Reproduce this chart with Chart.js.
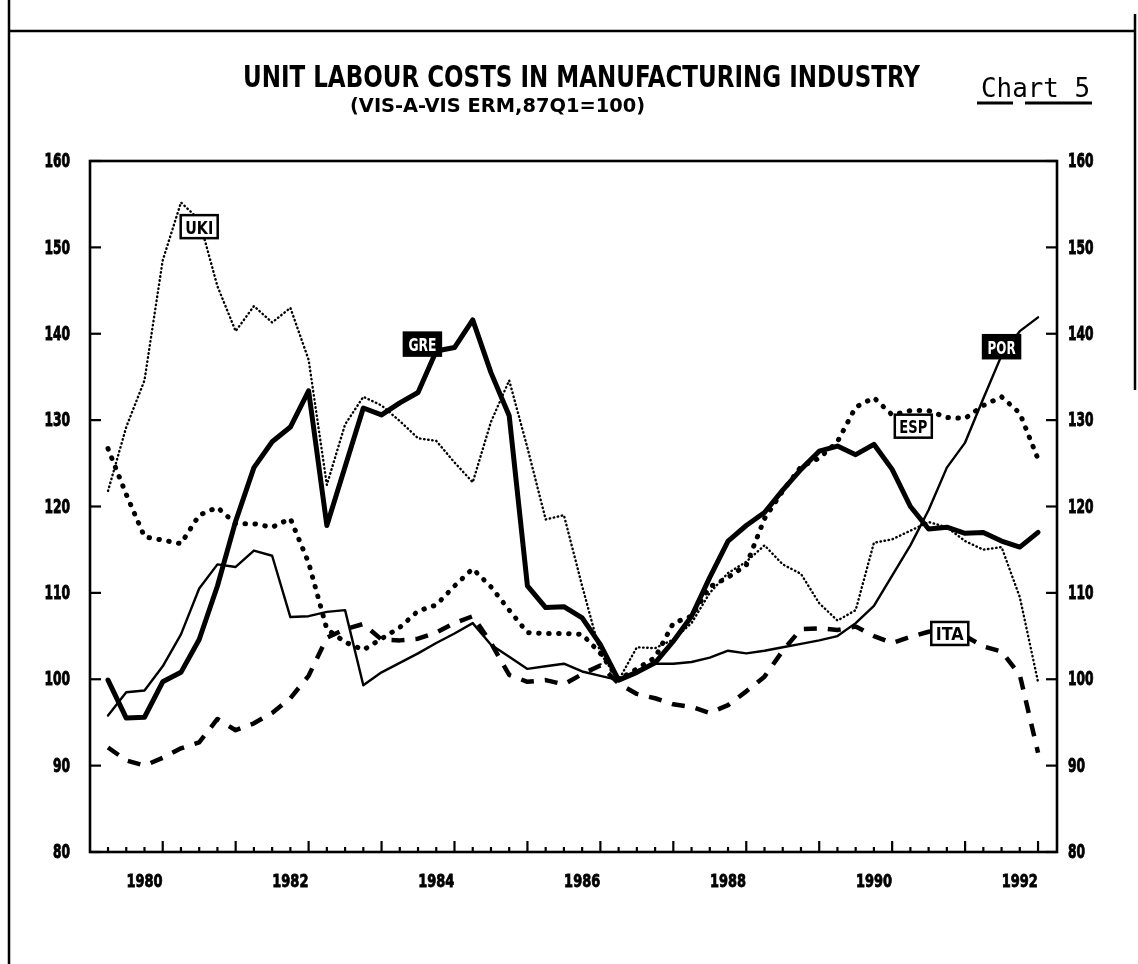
<!DOCTYPE html>
<html>
<head>
<meta charset="utf-8">
<title>Unit labour costs in manufacturing industry</title>
<script src="https://cdn.jsdelivr.net/npm/chart.js@4.4.0/dist/chart.umd.min.js"></script>
<style>
  html, body { margin: 0; padding: 0; background: #fff; }
  #wrap { width: 1138px; height: 964px; }
</style>
</head>
<body>
<div id="wrap"><canvas id="ulcChart" width="1138" height="964"></canvas></div>
<script>
// quarterly observations, 1979Q3 - 1992Q2
const quarters = [
  "1979Q3", "1979Q4",
  "1980Q1", "1980Q2", "1980Q3", "1980Q4",
  "1981Q1", "1981Q2", "1981Q3", "1981Q4",
  "1982Q1", "1982Q2", "1982Q3", "1982Q4",
  "1983Q1", "1983Q2", "1983Q3", "1983Q4",
  "1984Q1", "1984Q2", "1984Q3", "1984Q4",
  "1985Q1", "1985Q2", "1985Q3", "1985Q4",
  "1986Q1", "1986Q2", "1986Q3", "1986Q4",
  "1987Q1", "1987Q2", "1987Q3", "1987Q4",
  "1988Q1", "1988Q2", "1988Q3", "1988Q4",
  "1989Q1", "1989Q2", "1989Q3", "1989Q4",
  "1990Q1", "1990Q2", "1990Q3", "1990Q4",
  "1991Q1", "1991Q2", "1991Q3", "1991Q4",
  "1992Q1", "1992Q2"
];

const yearLabels = [1980, 1982, 1984, 1986, 1988, 1990, 1992];
const yTicks = [80, 90, 100, 110, 120, 130, 140, 150, 160];

const uki = [
  121.8, 129.2,
  134.6, 148.5, 155.2, 153.2,
  145.5, 140.3, 143.2, 141.3,
  143.0, 137.0, 122.5, 129.5,
  132.7, 131.7, 129.9, 127.9,
  127.6, 125.1, 122.8, 129.8,
  134.6, 126.8, 118.5, 119.0,
  110.8, 103.0, 99.9, 103.7,
  103.6, 104.6, 106.5, 110.0,
  112.3, 113.6, 115.5, 113.3,
  112.2, 108.8, 106.8, 108.0,
  115.8, 116.2, 117.2, 118.2,
  117.6, 116.0, 115.0, 115.3,
  109.5, 99.7
];

const esp = [
  126.7, 121.4,
  116.5, 116.1, 115.7, 119.0,
  119.9, 118.0, 118.0, 117.6,
  118.6, 113.5, 105.8, 104.3,
  103.4, 104.7, 106.0, 107.9,
  108.6, 110.8, 112.8, 110.7,
  108.0, 105.4, 105.3, 105.3,
  105.2, 103.0, 100.0, 101.2,
  102.5, 106.5, 107.3, 110.7,
  111.8, 113.2, 118.6, 121.8,
  124.6, 125.6, 127.5, 131.5,
  132.6, 130.6, 131.1, 131.1,
  130.3, 130.2, 131.7, 132.7,
  130.8, 125.5
];

const gre = [
  99.9, 95.5,
  95.6, 99.7, 100.8, 104.6,
  110.8, 118.3, 124.5, 127.5,
  129.2, 133.4, 117.8, 124.6,
  131.4, 130.6, 132.0, 133.2,
  138.0, 138.4, 141.6, 135.5,
  130.5, 110.8, 108.3, 108.4,
  107.1, 104.0, 99.9, 100.8,
  101.9, 104.4, 107.3, 111.8,
  116.0, 117.8, 119.3, 121.9,
  124.3, 126.4, 127.0, 126.0,
  127.2, 124.3, 120.0, 117.4,
  117.6, 116.9, 117.0, 116.0,
  115.3, 117.0
];

const por = [
  95.8, 98.5,
  98.7, 101.5, 105.2, 110.5,
  113.3, 113.0, 114.9, 114.3,
  107.2, 107.3, 107.8, 108.0,
  99.3, 100.8, 101.9, 103.0,
  104.2, 105.3, 106.5, 104.0,
  102.6, 101.2, 101.5, 101.8,
  100.9, 100.4, 99.9, 101.0,
  101.8, 101.8, 102.0, 102.5,
  103.3, 103.0, 103.3, 103.7,
  104.1, 104.5, 105.0, 106.5,
  108.5, 112.0, 115.5, 119.6,
  124.5, 127.4, 132.5, 137.5,
  140.3, 141.9
];

const ita = [
  92.1, 90.6,
  90.0, 90.9, 92.0, 92.7,
  95.4, 94.1, 94.9, 96.1,
  97.8, 100.4, 104.8, 105.8,
  106.4, 104.6, 104.5, 104.7,
  105.4, 106.5, 107.3, 104.2,
  100.5, 99.7, 99.9, 99.4,
  100.6, 101.6, 99.5, 98.3,
  97.8, 97.1, 96.8, 96.1,
  97.0, 98.6, 100.3, 103.3,
  105.8, 105.9, 105.7, 106.1,
  105.0, 104.2, 104.9, 105.5,
  105.8, 105.0, 103.8, 103.2,
  100.5, 91.5
];

// boxed country tags, placed in data coordinates
const tags = [
  { text: "UKI", x: 1980.75, y: 152.4, filled: false },
  { text: "GRE", x: 1983.81, y: 138.8, filled: true },
  { text: "POR", x: 1991.75, y: 138.5, filled: true },
  { text: "ESP", x: 1990.54, y: 129.3, filled: false },
  { text: "ITA", x: 1991.04, y: 105.3, filled: false }
];

const COND = "'DejaVu Sans Condensed', 'Liberation Sans Narrow', sans-serif";

function quarterToYear(q) {
  const [y, n] = q.split("Q");
  return Number(y) + (Number(n) - 1) / 4;
}

function toPoints(values) {
  return values.map((v, i) => ({ x: quarterToYear(quarters[i]), y: v }));
}

// draw text squeezed / stretched to a given width, left edge at x
function fitText(ctx, text, x, y, w, stroke) {
  const m = ctx.measureText(text).width;
  ctx.save();
  ctx.translate(x, y);
  ctx.scale(w / m, 1);
  ctx.fillText(text, 0, 0);
  if (stroke) {
    ctx.lineWidth = stroke;
    ctx.strokeText(text, 0, 0);
  }
  ctx.restore();
}

// narrow a text horizontally by factor sx; align: "left" | "right" | "center"
function narrowText(ctx, text, x, y, sx, align, stroke) {
  const w = ctx.measureText(text).width * sx;
  let x0 = x;
  if (align === "right") x0 = x - w;
  if (align === "center") x0 = x - w / 2;
  fitText(ctx, text, x0, y, w, stroke);
}

function line(ctx, x1, y1, x2, y2) {
  ctx.beginPath();
  ctx.moveTo(x1, y1);
  ctx.lineTo(x2, y2);
  ctx.stroke();
}

const pagePlugin = {
  id: "page",
  afterDatasetsDraw(chart) {
    const ctx = chart.ctx;
    const { left, right, top, bottom } = chart.chartArea;
    const xs = chart.scales.x;
    const ys = chart.scales.y;

    ctx.save();
    ctx.strokeStyle = "#000";
    ctx.fillStyle = "#000";
    ctx.lineCap = "butt";

    // plot frame
    ctx.lineWidth = 2.6;
    ctx.strokeRect(left, top, right - left, bottom - top);

    // quarter ticks on the time axis, longer ones once a year
    ctx.lineWidth = 2.2;
    quarters.forEach(q => {
      const px = xs.getPixelForValue(quarterToYear(q));
      const len = q.endsWith("Q2") ? 11 : 5;
      line(ctx, px, bottom, px, bottom - len);
    });

    // value ticks on both sides
    yTicks.forEach(t => {
      const py = ys.getPixelForValue(t);
      line(ctx, left, py, left + 11, py);
      line(ctx, right, py, right - 11, py);
    });

    // tick labels, narrow heavy figures
    ctx.textBaseline = "middle";
    ctx.font = "bold 20px " + COND;
    yTicks.forEach(t => {
      const py = ys.getPixelForValue(t);
      narrowText(ctx, String(t), left - 20, py + 1, 0.68, "right", 0.9);
      narrowText(ctx, String(t), right + 11, py + 1, 0.68, "left", 0.9);
    });
    ctx.font = "bold 18px " + COND;
    yearLabels.forEach(yr => {
      const px = xs.getPixelForValue(yr);
      narrowText(ctx, String(yr), px, bottom + 30, 0.8, "center", 0.8);
    });

    // country tags
    tags.forEach(tag => {
      const cx = xs.getPixelForValue(tag.x);
      const cy = ys.getPixelForValue(tag.y);
      const w = 37, h = 23;
      ctx.lineWidth = 2.5;
      ctx.fillStyle = tag.filled ? "#000" : "#fff";
      ctx.fillRect(cx - w / 2, cy - h / 2, w, h);
      ctx.strokeRect(cx - w / 2, cy - h / 2, w, h);
      ctx.fillStyle = tag.filled ? "#fff" : "#000";
      ctx.font = "bold 17px " + COND;
      ctx.textBaseline = "alphabetic";
      fitText(ctx, tag.text, cx - 14, cy + 7, 28);
    });
    ctx.restore();
  },
  afterDraw(chart) {
    const ctx = chart.ctx;
    ctx.save();
    ctx.strokeStyle = "#000";
    ctx.fillStyle = "#000";

    // page border
    ctx.lineWidth = 2.5;
    line(ctx, 9, 0, 9, 964);
    line(ctx, 9, 31, 1135, 31);
    line(ctx, 1135, 14, 1135, 390);

    // headings
    ctx.textAlign = "left";
    ctx.textBaseline = "alphabetic";
    ctx.font = "bold 30px " + COND;
    fitText(ctx, "UNIT LABOUR COSTS IN MANUFACTURING INDUSTRY", 243, 87, 677);
    ctx.font = "bold 19px " + COND;
    fitText(ctx, "(VIS-A-VIS ERM,87Q1=100)", 350, 112, 295);

    ctx.font = "27px 'DejaVu Sans Mono', monospace";
    fitText(ctx, "Chart 5", 981, 97, 109);
    ctx.lineWidth = 3;
    line(ctx, 977, 103, 1013, 103);
    line(ctx, 1025, 103, 1092, 103);
    ctx.restore();
  }
};

function makeSet(label, values, width, dash, cap) {
  return {
    label,
    data: toPoints(values),
    borderColor: "#000",
    borderWidth: width,
    borderDash: dash,
    borderCapStyle: cap,
    borderJoinStyle: "round",
    pointRadius: 0,
    tension: 0,
    fill: false
  };
}

const hiddenTicks = { display: false };

new Chart(document.getElementById("ulcChart"), {
  type: "line",
  data: {
    datasets: [
      makeSet("UKI", uki, 2.4, [0.5, 3.6], "round"),
      makeSet("ESP", esp, 5, [0.5, 9.5], "round"),
      makeSet("GRE", gre, 5, [], "round"),
      makeSet("POR", por, 2.4, [], "round"),
      makeSet("ITA", ita, 4.5, [13, 11], "butt")
    ]
  },
  options: {
    responsive: false,
    animation: false,
    devicePixelRatio: 1,
    layout: { padding: { top: 161, left: 0, right: 0, bottom: 0 } },
    plugins: {
      legend: { display: false },
      tooltip: { enabled: false }
    },
    scales: {
      x: {
        type: "linear",
        position: "bottom",
        min: 1979.253,
        max: 1992.51,
        afterFit: s => { s.height = 112; },
        afterBuildTicks: s => { s.ticks = yearLabels.map(v => ({ value: v })); },
        ticks: hiddenTicks,
        grid: { display: false, drawTicks: false },
        border: { display: false }
      },
      y: {
        position: "left",
        min: 80,
        max: 160,
        afterFit: s => { s.width = 90; },
        afterBuildTicks: s => { s.ticks = yTicks.map(v => ({ value: v })); },
        ticks: hiddenTicks,
        grid: { display: false, drawTicks: false },
        border: { display: false }
      },
      y2: {
        position: "right",
        min: 80,
        max: 160,
        afterFit: s => { s.width = 81; },
        afterBuildTicks: s => { s.ticks = yTicks.map(v => ({ value: v })); },
        ticks: hiddenTicks,
        grid: { display: false, drawTicks: false },
        border: { display: false }
      }
    }
  },
  plugins: [pagePlugin]
});
</script>
</body>
</html>
